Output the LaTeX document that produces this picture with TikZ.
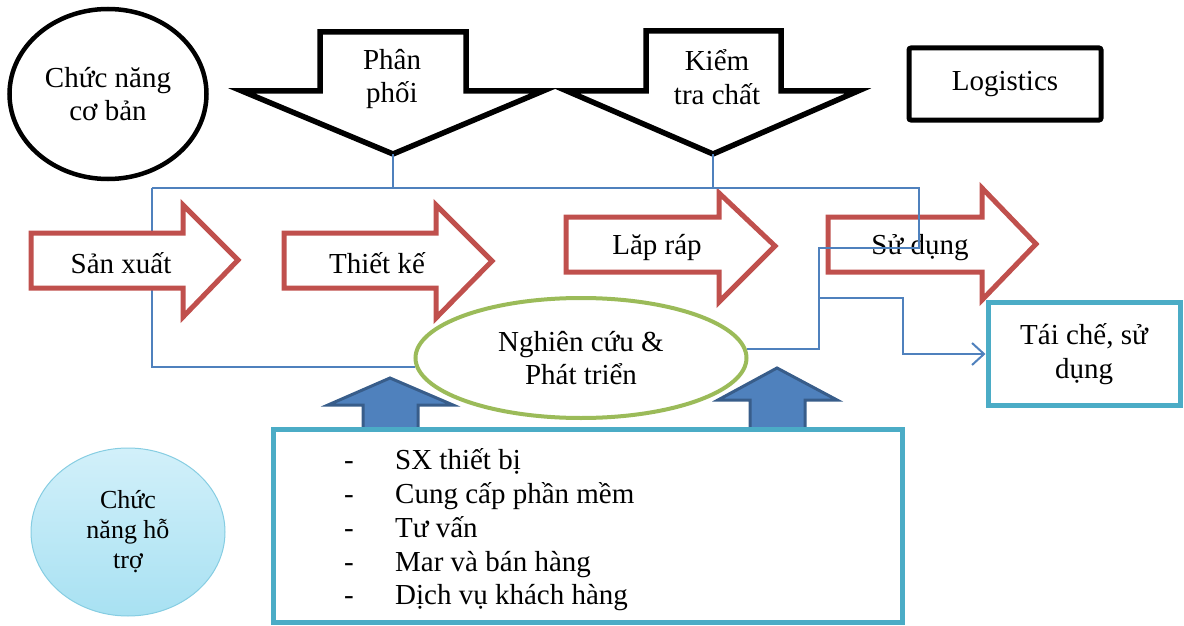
\documentclass[tikz,border=0pt]{standalone}
\usepackage{fontspec}
\setmainfont{Liberation Serif}
\usetikzlibrary{shapes.geometric,arrows.meta}
\definecolor{arrred}{HTML}{C0504D}
\definecolor{rdgreen}{HTML}{9BBB59}
\definecolor{boxcyan}{HTML}{4BACC6}
\definecolor{linkblue}{HTML}{4F81BD}
\definecolor{upblue}{HTML}{4F81BD}
\definecolor{upedge}{HTML}{385D8A}
\definecolor{htTop}{HTML}{D2F0FA}
\definecolor{htBot}{HTML}{A8E1F2}
\definecolor{htEdge}{HTML}{86CDE2}
\begin{document}
\begin{tikzpicture}[x=1pt,y=-1pt, every node/.style={font=\fontsize{29}{33.5}\selectfont},
blk/.style={draw=black,line width=5.5pt,fill=white},
redarr/.style={draw=arrred,line width=5pt,fill=white},
uparr/.style={draw=upedge,line width=3pt,fill=upblue},
conn/.style={draw=linkblue,line width=2pt},
tbox/.style={draw=boxcyan,line width=5pt,fill=white}]
\useasboundingbox (0,0) rectangle (1184,626);

% top row
\node[ellipse,draw,line width=4.5pt,minimum width=197,minimum height=170,inner sep=0,align=center] (cb) at (108,94) {Chức năng\\cơ bản};
\draw[blk] (320,32) -- (466,32) -- (466,91) -- (543,91) -- (393,154) -- (242,91) -- (320,91) -- cycle;
\node[align=center] (pp) at (392,79) {Phân\\phối};
\coordinate (ppt) at (393,154);
\draw[blk] (646,31) -- (781,31) -- (781,91) -- (858,91) -- (713,154) -- (567,91) -- (646,91) -- cycle;
\node[align=center] (kt) at (717,77) {Kiểm\\tra chất};
\coordinate (ktt) at (713,154);
\node[draw,line width=5pt,rounded corners=2pt,minimum width=192,minimum height=72] (lg) at (1005,84) {Logistics};

% R&D and links
\node[ellipse,draw=rdgreen,line width=4pt,fill=white,minimum width=331,minimum height=120,inner sep=0,align=center] (rd) at (581,358) {Nghiên cứu \&\\Phát triển};
\coordinate (top) at (152,188);
\coordinate (jn) at (819,298);
\draw[conn] (rd.183) -| (top);

% value chain
\draw[redarr] (31,233) -- (183,233) -- (183,205) -- (238,260) -- (183,317) -- (183,288) -- (31,288) -- cycle;
\node (sx) at (121,263) {Sản xuất};
\draw[redarr] (284,233) -- (436,233) -- (436,205) -- (492,261) -- (436,318) -- (436,288) -- (284,288) -- cycle;
\node (tk) at (377,263) {Thiết kế};
\draw[redarr] (566,217) -- (719,217) -- (719,193) -- (775,246) -- (719,302) -- (719,272) -- (566,272) -- cycle;
\node (lr) at (657,248) {Lăp ráp};
\draw[redarr] (828,217) -- (982,217) -- (982,188) -- (1036,244) -- (982,300) -- (982,272) -- (828,272) -- cycle;
\node (sd) at (920,248) {Sử dụng};

\draw[conn] (top) -- (919,188) |- (819,248) |- (rd.3);
\draw[conn] (ppt) -- (ppt |- top);
\draw[conn] (ktt) -- (ktt |- top);
\node[tbox,minimum width=192,minimum height=103,align=center] (tc) at (1084,354) {Tái chế, sử\\dụng};
\draw[conn,-{Straight Barb[length=12pt,width=22pt]}] (jn) -- ++(84,0) |- (tc);

% support functions
\draw[uparr] (363,432) -- (363,405) -- (328,405) -- (390,378) -- (453,405) -- (418,405) -- (418,432) -- cycle;
\draw[uparr] (750,432) -- (750,400) -- (718,400) -- (777,368) -- (837,400) -- (805,400) -- (805,432) -- cycle;
\node[tbox,minimum width=629,minimum height=193] (bx) at (588,526) {};
\node[anchor=west,align=left,inner sep=0,font=\fontsize{29}{33.8}\selectfont] (lst) at (344,530)
{\makebox[51pt][l]{-}SX thiết bị\\
 \makebox[51pt][l]{-}Cung cấp phần mềm\\
 \makebox[51pt][l]{-}Tư vấn\\
 \makebox[51pt][l]{-}Mar và bán hàng\\
 \makebox[51pt][l]{-}Dịch vụ khách hàng};
\node[ellipse,draw=htEdge,line width=1pt,top color=htTop,bottom color=htBot,minimum width=194,minimum height=168,inner sep=0,align=center,font=\fontsize{26}{30}\selectfont] (ht) at (128,532) {Chức\\năng hỗ\\trợ};
\end{tikzpicture}
\end{document}
